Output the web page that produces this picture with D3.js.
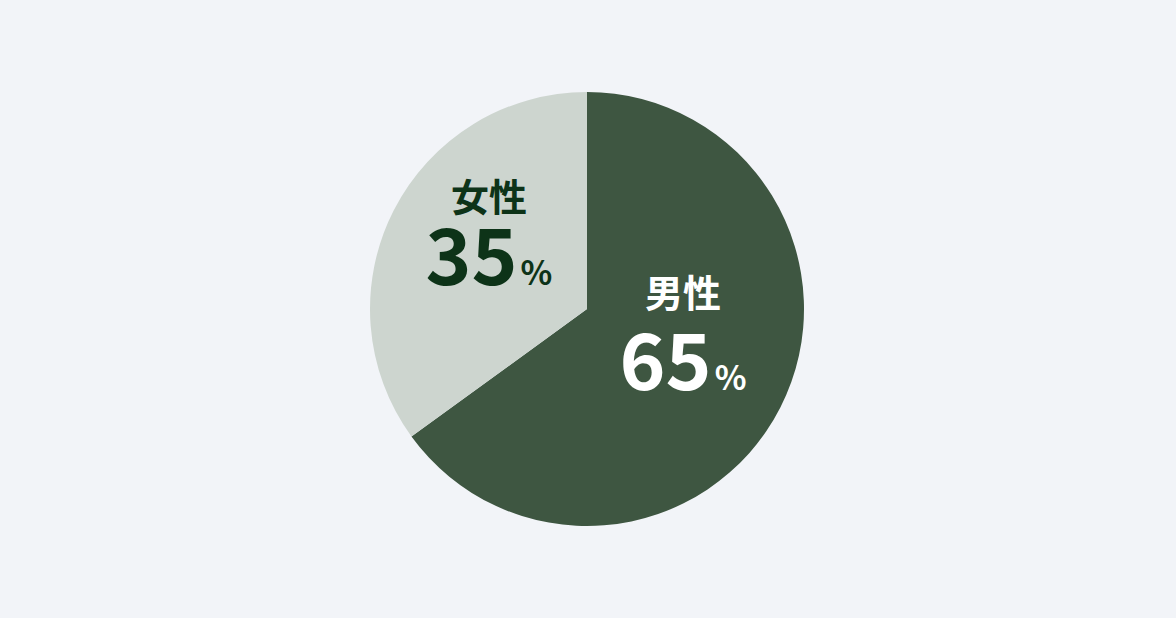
<!DOCTYPE html>
<html>
<head>
<meta charset="utf-8">
<script src="https://cdn.jsdelivr.net/npm/d3@7"></script>
<style>
  html, body { margin: 0; padding: 0; background: #f2f4f8; }
  body { width: 1176px; height: 618px; overflow: hidden; }
  text { font-family: "Noto Sans CJK JP", "Noto Sans", sans-serif; font-weight: 700; }
</style>
</head>
<body>
<div id="chart"></div>
<script>
const categories = ["男性", "女性"];
const shares = [65, 35];
const sliceColors = ["#3e5641", "#cdd5cf"];
const labelColors = ["#ffffff", "#0d3318"];

const width = 1176;
const height = 618;
const radius = 217;

const svg = d3.select("#chart")
  .append("svg")
  .attr("width", width)
  .attr("height", height)
  .append("g")
  .attr("transform", `translate(587, 309)`);

const data = categories.map((c, i) => ({ name: c, value: shares[i], i }));

const pie = d3.pie()
  .value(d => d.value)
  .sort(null);

const arc = d3.arc()
  .outerRadius(radius)
  .innerRadius(0);

const labelArc = d3.arc()
  .outerRadius(220)
  .innerRadius(0);

const arcs = svg.selectAll(".arc")
  .data(pie(data))
  .enter()
  .append("g")
  .attr("class", "arc");

arcs.append("path")
  .attr("d", arc)
  .attr("fill", d => sliceColors[d.data.i]);

const labels = arcs.append("g")
  .attr("transform", d => {
    const [x, y] = labelArc.centroid(d);
    return `translate(${x - (d.data.i === 0 ? 2 : 0)}, ${y})`;
  });

labels.append("text")
  .attr("text-anchor", "middle")
  .attr("y", d => d.data.i === 0 ? -52 : -48)
  .attr("fill", d => labelColors[d.data.i])
  .style("font-size", "38px")
  .text(d => d.data.name);

const pct = labels.append("text")
  .attr("text-anchor", "middle")
  .attr("y", d => d.data.i === 0 ? 31 : 26)
  .attr("fill", d => labelColors[d.data.i]);

pct.append("tspan")
  .style("font-size", "78px")
  .text(d => d.data.value);

pct.append("tspan")
  .style("font-size", "33px")
  .attr("dx", 3)
  .text("%");
</script>
</body>
</html>
